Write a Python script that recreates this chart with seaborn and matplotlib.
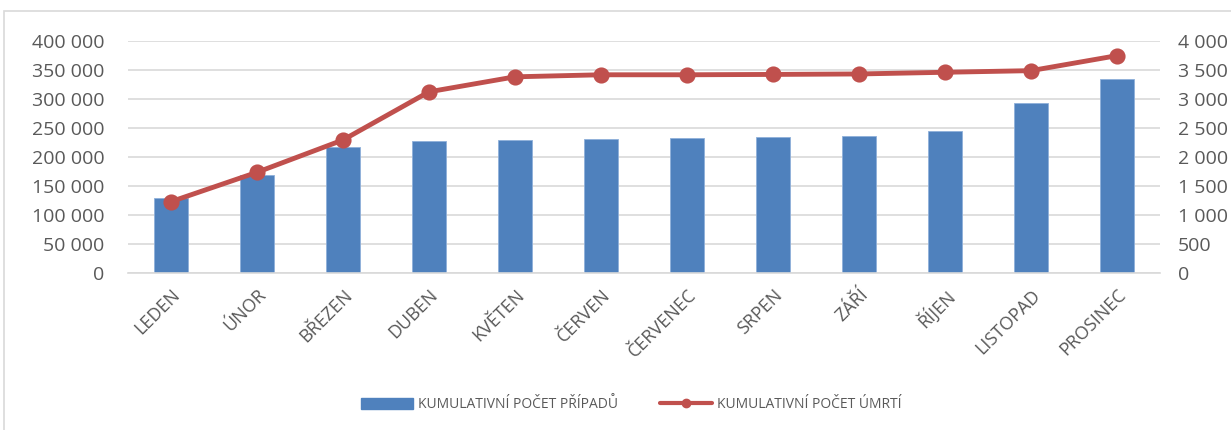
import matplotlib
matplotlib.use("Agg")
import matplotlib.pyplot as plt
import matplotlib.ticker as mticker
from matplotlib.patches import Patch, Rectangle
from matplotlib.lines import Line2D
import seaborn as sns
import pandas as pd
import numpy as np

months = ["LEDEN", "ÚNOR", "BŘEZEN", "DUBEN", "KVĚTEN", "ČERVEN",
          "ČERVENEC", "SRPEN", "ZÁŘÍ", "ŘÍJEN", "LISTOPAD", "PROSINEC"]
cases = [129000, 169000, 216500, 227000, 230000, 231800,
         233300, 234000, 236000, 244800, 292400, 333700]
deaths = [1232, 1737, 2293, 3121, 3379, 3414, 3414, 3420, 3428, 3457, 3485, 3743]
left_ticks = [0, 50000, 100000, 150000, 200000, 250000, 300000, 350000, 400000]
right_ticks = [0, 500, 1000, 1500, 2000, 2500, 3000, 3500, 4000]
bar_label = "KUMULATIVNÍ POČET PŘÍPADŮ"
line_label = "KUMULATIVNÍ POČET ÚMRTÍ"

BLUE = "#4F81BD"
RED = "#C0504D"
GRID = "#D9D9D9"
TXT = "#595959"

sns.set_theme(style="white")
plt.rcParams["font.family"] = ["Open Sans", "DejaVu Sans"]

fig = plt.figure(figsize=(12.31, 4.30), dpi=100)
ax = fig.add_axes([128/1231, 1-273.3/430, (1160-128)/1231, (273.3-40.7)/430])

df = pd.DataFrame({"month": months, "cases": cases, "deaths": deaths})
sns.barplot(data=df, x="month", y="cases", ax=ax, color=BLUE, width=0.4,
            saturation=1, edgecolor="#8FB0DA", linewidth=0.6, zorder=2)
ax.set_xlim(-0.5, len(months)-0.5)
ax.set_ylim(0, 400000)
ax.set_yticks(left_ticks)
fmt = mticker.FuncFormatter(lambda v, p: f"{int(v):,}".replace(",", " "))
ax.yaxis.set_major_formatter(fmt)
ax.grid(axis="y", color=GRID, linewidth=1.2, zorder=0)
ax.set_axisbelow(True)
for s in ["top", "left", "right"]:
    ax.spines[s].set_visible(False)
ax.spines["bottom"].set_color(GRID)
ax.spines["bottom"].set_linewidth(1.2)
ax.set_xlabel("")
ax.set_ylabel("")
ax.tick_params(axis="y", length=0, labelsize=14, labelcolor=TXT, pad=17)
ax.tick_params(axis="x", which="major", length=0, labelsize=13, labelcolor=TXT, pad=9)
ax.set_xticks(np.arange(-0.5, len(months), 1), minor=True)
ax.tick_params(axis="x", which="minor", length=5, color=GRID, width=1.2, direction="out")
for lbl in ax.get_xticklabels():
    lbl.set_rotation(45)
    lbl.set_ha("right")
    lbl.set_rotation_mode("anchor")

ax2 = ax.twinx()
sns.pointplot(data=df, x="month", y="deaths", ax=ax2, color=RED,
              markers="o", linestyles="-", markersize=9, linewidth=3.5, errorbar=None)
ax2.set_xlim(-0.5, len(months)-0.5)
ax2.set_ylim(0, 4000)
ax2.set_yticks(right_ticks)
ax2.yaxis.set_major_formatter(fmt)
ax2.tick_params(axis="y", length=0, labelsize=14, labelcolor=TXT, pad=13)
ax2.set_ylabel("")
ax2.set_xlabel("")
for s in ax2.spines.values():
    s.set_visible(False)

handles = [Patch(facecolor=BLUE, edgecolor=BLUE),
           Line2D([0], [0], color=RED, lw=3, marker="o", markersize=6)]
fig.legend(handles, [bar_label, line_label], loc="center", bbox_to_anchor=(631/1231, 1-405/430),
           ncol=2, frameon=False, fontsize=10, labelcolor=TXT, handlelength=3.75,
           handleheight=0.8, columnspacing=3.0, handletextpad=0.35)

fig.patches.append(Rectangle((4/1231, -0.05), 1.1, 1-11/430+0.05, transform=fig.transFigure,
                             fill=False, edgecolor=GRID, linewidth=1.2))

fig.savefig("out.png", dpi=100)
